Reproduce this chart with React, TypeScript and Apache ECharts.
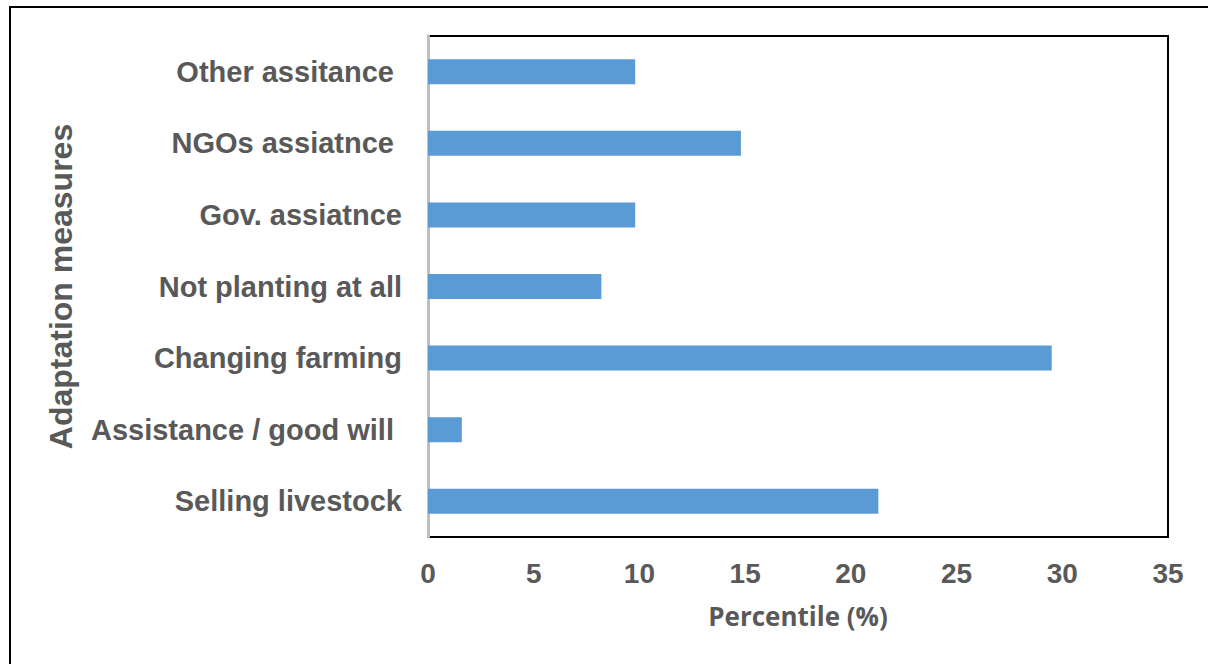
import React, { useEffect, useRef } from "react";
import * as echarts from "echarts";

const categories = [
  "Selling livestock",
  "Assistance / good will ",
  "Changing farming",
  "Not planting at all",
  "Gov. assiatnce",
  "NGOs assiatnce ",
  "Other assitance ",
];
const values = [21.3, 1.6, 29.5, 8.2, 9.8, 14.8, 9.8];
const xTitle = "Percentile (%)";
const yTitle = "Adaptation measures";

export default function App() {
  const ref = useRef<HTMLDivElement>(null);
  useEffect(() => {
    if (!ref.current) return;
    const chart = echarts.init(ref.current, null, { renderer: "svg" });
    chart.setOption({
      animation: false,
      backgroundColor: "#ffffff",
      graphic: [
        {
          type: "rect",
          shape: { x: 10, y: 7, width: 1400, height: 800 },
          style: { fill: "none", stroke: "#000", lineWidth: 2 },
          z: 100,
        },
      ],
      grid: {
        left: 428,
        right: 40,
        top: 36,
        bottom: 127,
        show: true,
        borderColor: "#000",
        borderWidth: 2,
        containLabel: false,
      },
      xAxis: {
        type: "value",
        min: 0,
        max: 35,
        interval: 5,
        splitLine: { show: false },
        axisLine: { show: false },
        axisTick: { show: false },
        axisLabel: {
          color: "#595959",
          fontFamily: "Liberation Sans, Arial, sans-serif",
          fontWeight: "bold",
          fontSize: 28,
          margin: 22,
        },
        name: xTitle,
        nameLocation: "middle",
        nameGap: 66,
        nameTextStyle: {
          color: "#595959",
          fontFamily: "Open Sans, sans-serif",
          fontWeight: "bold",
          fontSize: 26,
        },
      },
      yAxis: {
        type: "category",
        data: categories,
        axisLine: { show: true, lineStyle: { color: "#BFBFBF", width: 3 } },
        axisTick: { show: false },
        splitLine: { show: false },
        axisLabel: {
          color: "#595959",
          fontFamily: "Liberation Sans, Arial, sans-serif",
          fontWeight: "bold",
          fontSize: 29,
          margin: 26,
        },
        name: yTitle,
        nameLocation: "middle",
        nameGap: 351,
        nameTextStyle: {
          color: "#595959",
          fontFamily: "Liberation Sans, Arial, sans-serif",
          fontWeight: "bold",
          fontSize: 32,
        },
      },
      series: [
        {
          type: "bar",
          data: values,
          barWidth: 25,
          itemStyle: { color: "#5B9BD5" },
        },
      ],
    });
    return () => chart.dispose();
  }, []);
  return (
    <div
      ref={ref}
      style={{ position: "fixed", left: 0, top: 0, width: 1208, height: 664 }}
    />
  );
}
